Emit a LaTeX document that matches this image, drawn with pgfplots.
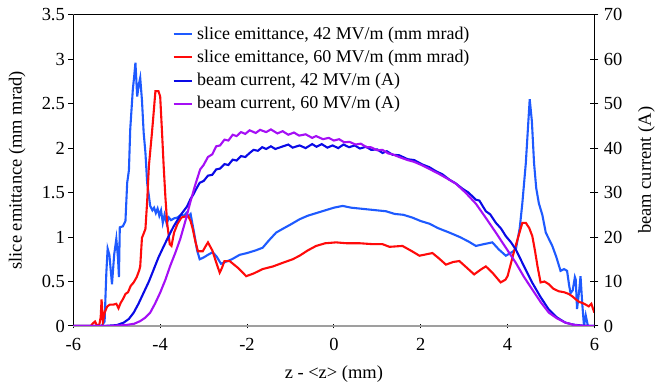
\documentclass[border=0pt]{standalone}
\usepackage{fontspec}
\setmainfont{Liberation Serif}
\usepackage{pgfplots}
\pgfplotsset{compat=1.18}
\definecolor{emA}{RGB}{30,90,255}
\definecolor{emB}{RGB}{255,10,10}
\definecolor{cuA}{RGB}{10,10,230}
\definecolor{cuB}{RGB}{165,15,245}
\begin{document}
\begin{tikzpicture}
\pgfplotsset{
  every axis/.append style={scale only axis, width=522.2pt, height=312pt,
    xmin=-6, xmax=6, anchor=south west, at={(0,0)},
    font=\fontsize{18.5}{21}\selectfont,
    /pgf/number format/assume math mode=true,
    axis line style={-, black, line width=1pt},
    every tick/.style={black, line width=1pt},
    label style={font=\fontsize{18}{21}\selectfont},
  },
}
\path (-73.5pt,-61.3pt) rectangle (584.5pt,326.7pt);
\begin{axis}[
  ymin=0, ymax=3.5,
  axis x line*=bottom, axis y line*=left,
  x axis line style={gray!75, line width=2pt},
  ytick={0,0.5,1,1.5,2,2.5,3,3.5},
  xtick={-6,-4,-2,0,2,4,6},
  tick align=outside, major tick length=5pt,
  xtick style={yshift=2.5pt},
  xticklabel style={yshift=-4pt},
  yticklabel style={/pgf/number format/fixed},
  xlabel={z - <z> (mm)},
  ylabel={slice emittance (mm mrad)},
  every axis x label/.style={at={(axis description cs:0.5,-0.155)}, anchor=center},
  every axis y label/.style={at={(axis description cs:-0.108,0.5)}, anchor=center, rotate=90},
]
\draw[black, line width=1pt] (rel axis cs:0,1) -- (rel axis cs:1,1);
\addplot[emA, line width=2.1pt] coordinates {
(-6.0,0) (-5.35,0) (-5.28,0.05) (-5.24,0.6) (-5.21,0.87) (-5.17,0.80) (-5.11,0.47) (-5.06,0.8) (-5.01,0.98) (-4.97,0.75) (-4.95,0.55) (-4.93,1.11) (-4.86,1.12) (-4.80,1.18) (-4.76,1.61) (-4.72,1.75) (-4.69,2.21) (-4.63,2.66) (-4.60,2.80) (-4.57,2.96) (-4.53,2.58) (-4.49,2.72) (-4.46,2.79) (-4.42,2.54) (-4.38,2.17) (-4.34,1.95) (-4.30,1.61) (-4.23,1.35) (-4.18,1.30) (-4.14,1.33) (-4.10,1.27) (-4.06,1.32) (-4.02,1.24) (-3.98,1.30) (-3.94,1.16) (-3.90,1.25) (-3.85,1.15) (-3.80,1.22) (-3.75,1.19) (-3.68,1.21) (-3.60,1.22) (-3.52,1.25) (-3.45,1.24) (-3.40,1.27) (-3.36,1.23) (-3.30,1.26) (-3.22,1.05) (-3.15,0.85) (-3.09,0.75) (-3.00,0.77) (-2.90,0.80) (-2.79,0.83) (-2.70,0.78) (-2.60,0.70) (-2.50,0.72) (-2.35,0.75) (-2.17,0.80) (-2.00,0.82) (-1.80,0.85) (-1.64,0.88) (-1.50,0.96) (-1.33,1.05) (-1.15,1.10) (-1.00,1.14) (-0.79,1.20) (-0.60,1.24) (-0.40,1.27) (-0.20,1.30) (0.00,1.33) (0.20,1.35) (0.40,1.33) (0.60,1.32) (0.80,1.31) (1.00,1.30) (1.20,1.29) (1.40,1.26) (1.60,1.25) (1.80,1.22) (2.00,1.18) (2.20,1.15) (2.40,1.10) (2.66,1.05) (2.90,1.00) (3.10,0.95) (3.27,0.90) (3.45,0.92) (3.65,0.94) (3.80,0.86) (3.96,0.79) (4.10,0.83) (4.19,0.86) (4.28,1.10) (4.34,1.38) (4.42,1.83) (4.51,2.55) (4.56,2.30) (4.61,1.83) (4.66,1.55) (4.72,1.38) (4.80,1.25) (4.88,1.05) (4.95,0.98) (5.03,0.90) (5.12,0.78) (5.22,0.62) (5.30,0.64) (5.37,0.62) (5.42,0.45) (5.45,0.37) (5.50,0.40) (5.55,0.55) (5.57,0.52) (5.60,0.19) (5.65,0.40) (5.68,0.56) (5.72,0.25) (5.76,0.0) (5.80,0.12) (5.85,0.0) (6.0,0)
};
\addplot[emB, line width=2.1pt] coordinates {
(-6.0,0) (-5.60,0) (-5.55,0.03) (-5.50,0.05) (-5.45,0.0) (-5.40,0.02) (-5.37,0.10) (-5.35,0.30) (-5.32,0.05) (-5.28,0.15) (-5.22,0.22) (-5.16,0.24) (-5.08,0.24) (-5.01,0.25) (-4.96,0.20) (-4.91,0.26) (-4.86,0.30) (-4.80,0.36) (-4.74,0.38) (-4.68,0.45) (-4.61,0.49) (-4.54,0.55) (-4.48,0.63) (-4.46,0.67) (-4.42,0.99) (-4.34,1.09) (-4.30,1.40) (-4.26,1.80) (-4.19,2.17) (-4.15,2.40) (-4.11,2.64) (-4.04,2.64) (-4.00,2.58) (-3.96,2.20) (-3.92,1.80) (-3.88,1.45) (-3.84,1.16) (-3.78,0.92) (-3.74,0.90) (-3.68,1.05) (-3.60,1.15) (-3.51,1.22) (-3.43,1.23) (-3.36,1.24) (-3.30,1.18) (-3.25,1.09) (-3.19,0.95) (-3.13,0.84) (-3.02,0.84) (-2.95,0.90) (-2.90,0.94) (-2.80,0.85) (-2.70,0.70) (-2.63,0.60) (-2.58,0.65) (-2.52,0.73) (-2.40,0.73) (-2.20,0.65) (-2.02,0.56) (-1.85,0.59) (-1.64,0.64) (-1.40,0.67) (-1.18,0.71) (-0.95,0.75) (-0.79,0.79) (-0.60,0.85) (-0.41,0.90) (-0.20,0.93) (0.05,0.94) (0.30,0.93) (0.60,0.93) (0.90,0.92) (1.12,0.92) (1.28,0.89) (1.58,0.90) (1.80,0.84) (1.97,0.79) (2.27,0.82) (2.42,0.76) (2.58,0.69) (2.75,0.72) (2.89,0.73) (3.05,0.66) (3.23,0.58) (3.40,0.64) (3.50,0.67) (3.65,0.60) (3.84,0.49) (3.95,0.52) (4.00,0.56) (4.15,0.84) (4.34,1.16) (4.42,1.16) (4.50,1.10) (4.57,1.01) (4.63,0.85) (4.69,0.67) (4.76,0.49) (4.85,0.50) (4.95,0.47) (5.05,0.42) (5.18,0.39) (5.30,0.38) (5.41,0.36) (5.50,0.33) (5.57,0.30) (5.65,0.27) (5.72,0.26) (5.80,0.24) (5.87,0.22) (5.93,0.25) (5.97,0.19) (6.0,0.15)
};
\end{axis}
\begin{axis}[
  ymin=0, ymax=70,
  axis x line=none, axis y line*=right,
  ytick={0,10,20,30,40,50,60,70},
  tick align=center, major tick length=8pt,
  yticklabel style={xshift=2pt},
  ylabel={beam current (A)},
  every axis y label/.style={at={(axis description cs:1.0996,0.5)}, anchor=center, rotate=90},
  legend style={at={(axis description cs:0.19,0.970)}, anchor=north west, draw=none, fill=none,
    inner sep=0pt, row sep=3.3pt,
    nodes={inner sep=0pt, text height=15pt, text depth=5pt},
    /tikz/every odd column/.append style={column sep=4.5pt},
    font=\fontsize{18}{21}\selectfont, legend cell align=left},
  legend image code/.code={\draw[#1] (0pt,0pt) -- (18pt,0pt);},
]
\addlegendimage{emA, line width=2.1pt}
\addlegendentry{slice emittance, 42 MV/m (mm mrad)}
\addlegendimage{emB, line width=2.1pt}
\addlegendentry{slice emittance, 60 MV/m (mm mrad)}
\addplot[cuA, line width=2.1pt] coordinates {
(-6.0,0) (-5.3,0) (-5.0,0.2) (-4.84,0.76) (-4.72,1.6) (-4.61,3.0) (-4.50,5.0) (-4.38,7.5) (-4.26,10.0) (-4.15,12.7) (-4.04,15.4) (-3.92,17.9) (-3.80,20.3) (-3.69,22.4) (-3.54,24.8) (-3.38,26.9) (-3.30,28.6) (-3.24,29.5) (-3.16,31.0) (-3.09,32.2) (-3.00,32.6) (-2.90,33.8) (-2.80,34.0) (-2.71,35.2) (-2.62,35.4) (-2.52,36.4) (-2.43,36.2) (-2.33,37.4) (-2.24,37.2) (-2.14,38.2) (-2.04,38.0) (-1.94,38.9) (-1.85,39.6) (-1.75,39.4) (-1.65,40.2) (-1.56,39.8) (-1.45,40.4) (-1.35,39.8) (-1.20,40.3) (-1.05,40.8) (-0.95,40.1) (-0.79,40.6) (-0.65,40.0) (-0.50,40.9) (-0.40,40.3) (-0.28,40.9) (-0.15,40.1) (-0.03,40.6) (0.10,40.0) (0.22,40.8) (0.35,40.2) (0.48,40.6) (0.60,39.9) (0.74,40.3) (0.86,39.6) (1.00,39.7) (1.12,38.9) (1.22,39.3) (1.35,38.5) (1.50,38.4) (1.70,37.5) (1.85,37.3) (2.04,36.3) (2.20,35.7) (2.35,34.8) (2.50,34.1) (2.66,32.9) (2.80,32.1) (2.97,30.8) (3.10,30.0) (3.27,28.4) (3.35,28.2) (3.50,25.8) (3.60,25.1) (3.73,23.2) (3.85,21.9) (3.96,20.2) (4.08,18.8) (4.19,17.2) (4.38,13.4) (4.57,9.7) (4.76,6.5) (4.95,3.7) (5.14,1.9) (5.33,0.76) (5.52,0.3) (5.72,0.1) (6.0,0)
};
\addlegendentry{beam current, 42 MV/m (A)}
\addplot[cuB, line width=2.1pt] coordinates {
(-6.0,0) (-5.2,0) (-4.8,0.2) (-4.6,0.5) (-4.46,1.1) (-4.34,1.9) (-4.23,3.0) (-4.12,5.0) (-4.00,7.5) (-3.88,10.4) (-3.77,13.5) (-3.65,16.5) (-3.54,19.5) (-3.42,23.6) (-3.31,27.7) (-3.20,31.5) (-3.08,35.2) (-3.00,36.2) (-2.90,38.0) (-2.80,38.6) (-2.71,40.4) (-2.62,40.6) (-2.52,41.9) (-2.43,41.7) (-2.33,43.0) (-2.24,42.7) (-2.14,43.6) (-2.04,43.2) (-1.94,44.0) (-1.80,43.4) (-1.70,44.1) (-1.56,43.6) (-1.45,44.2) (-1.30,43.3) (-1.18,43.8) (-1.05,43.0) (-0.92,43.5) (-0.80,42.8) (-0.65,43.1) (-0.50,42.3) (-0.41,42.7) (-0.25,42.0) (-0.12,42.3) (0.00,41.7) (0.12,42.0) (0.24,41.3) (0.36,41.4) (0.50,40.8) (0.62,41.0) (0.75,40.2) (0.85,40.2) (1.00,39.5) (1.12,39.6) (1.25,38.8) (1.35,38.6) (1.50,38.0) (1.70,37.3) (1.85,36.9) (2.04,36.1) (2.20,35.3) (2.42,34.2) (2.60,33.2) (2.81,32.0) (3.04,29.9) (3.27,27.5) (3.50,24.3) (3.73,21.0) (3.96,17.6) (4.19,14.2) (4.38,11.0) (4.57,8.2) (4.76,5.4) (4.95,3.0) (5.14,1.7) (5.33,0.76) (5.55,0.2) (5.8,0) (6.0,0)
};
\addlegendentry{beam current, 60 MV/m (A)}
\end{axis}
\end{tikzpicture}
\end{document}
